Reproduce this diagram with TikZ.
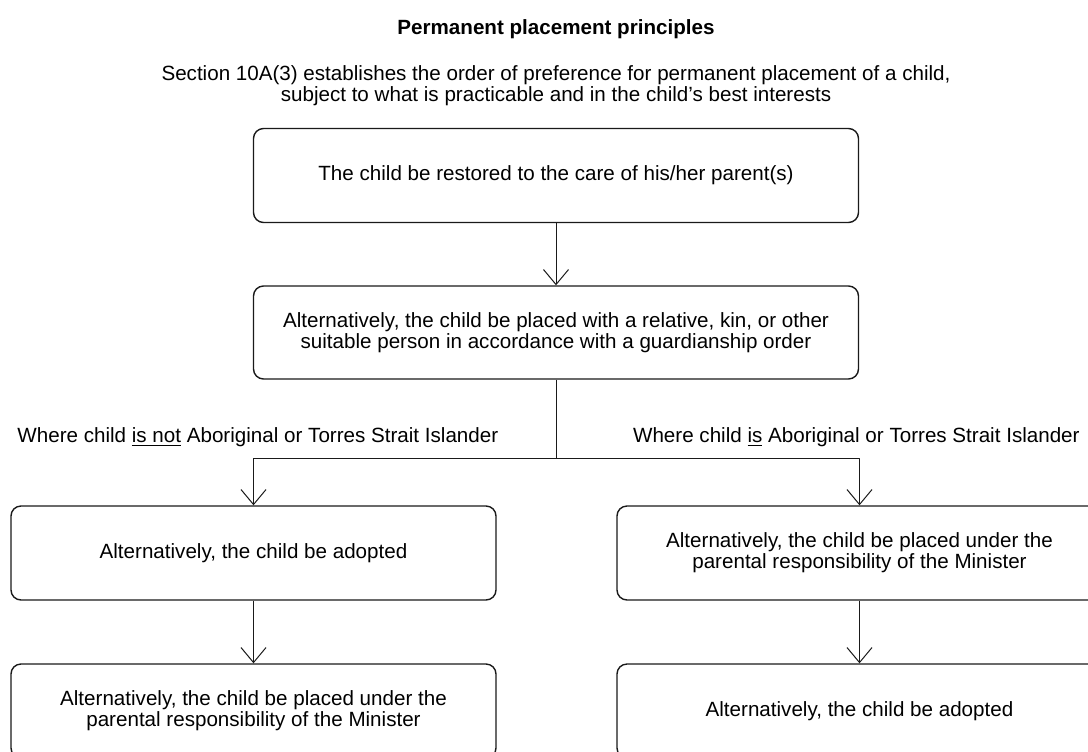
\documentclass[tikz,border=0pt]{standalone}
\usepackage{fontspec}
\setmainfont{Liberation Sans}
\usetikzlibrary{arrows.meta, positioning}
\definecolor{ppline}{HTML}{1A1A1A}
\definecolor{pptext}{HTML}{000000}
\tikzset{
  every picture/.style={line join=round},
  stepbox/.style={rectangle, rounded corners=5pt, draw=ppline, line width=0.7pt,
    fill=white, align=center, text=pptext, inner sep=2pt,
    font=\fontsize{10.3pt}{9.6pt}\selectfont},
  wide/.style={stepbox, minimum width=302.5pt, minimum height=47pt},
  half/.style={stepbox, minimum width=242.5pt, minimum height=47pt},
  flow/.style={-{Straight Barb[length=7.5pt, width=12.5pt, line width=0.5pt]},
    draw=ppline, line width=0.5pt},
  link/.style={draw=ppline, line width=0.5pt},
  branch/.style={font=\fontsize{10.3pt}{9.6pt}\selectfont, text=pptext, inner sep=0pt},
  heading/.style={font=\fontsize{10.3pt}{9.6pt}\selectfont\bfseries, text=pptext, inner sep=0pt},
  intro/.style={font=\fontsize{10.3pt}{9.6pt}\selectfont, text=pptext, align=center, inner sep=0pt},
}

\begin{document}
\begin{tikzpicture}[x=0.5pt, y=-0.5pt]
\clip (0,0) rectangle (1088,751);

% ---- title and introduction
\node[heading] (title) at (556, 29) {Permanent placement principles};
\node[intro] (intro) at (556, 86)
  {Section 10A(3) establishes the order of preference for permanent placement of a child,\\
   subject to what is practicable and in the child’s best interests};

% ---- common path: restoration, then guardianship
\node[wide] (restore) at (556, 175.5) {The child be restored to the care of his/her parent(s)};
\node[wide, minimum height=46.5pt] (guardian) at (556, 332.5)
  {Alternatively, the child be placed with a relative, kin, or other\\
   suitable person in accordance with a guardianship order};
\draw[flow] (restore) -- (guardian);

% ---- the split by Aboriginal or Torres Strait Islander status
\coordinate (split) at (556, 458);
\node[branch, anchor=west] (notatsi) at (17, 437)
  {Where child \underline{is not} Aboriginal or Torres Strait Islander};
\node[branch, anchor=east] (atsi) at (1080, 437)
  {Where child \underline{is} Aboriginal or Torres Strait Islander};

% ---- left: adoption first
\node[half] (adoptL) at (253.5, 553) {Alternatively, the child be adopted};
\node[half] (ministerL) at (253.5, 711)
  {Alternatively, the child be placed under the\\
   parental responsibility of the Minister};

% ---- right: Minister first
\node[half] (ministerR) at (859.5, 553)
  {Alternatively, the child be placed under the\\
   parental responsibility of the Minister};
\node[half] (adoptR) at (859.5, 711) {Alternatively, the child be adopted};

\draw[link] (guardian) -- (split);
\draw[flow] (split) -| (adoptL);
\draw[flow] (split) -| (ministerR);
\draw[flow] (adoptL) -- (ministerL);
\draw[flow] (ministerR) -- (adoptR);

\end{tikzpicture}
\end{document}
